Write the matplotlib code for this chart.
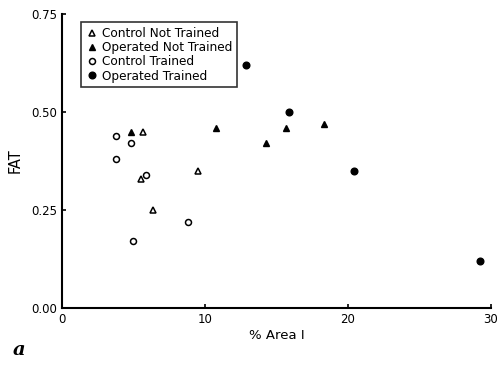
import matplotlib
matplotlib.use("Agg")
import matplotlib.pyplot as plt

# control, not trained (open triangles)
cnt_x = [5.7, 5.5, 9.5, 6.4]
cnt_y = [0.45, 0.33, 0.35, 0.25]
# operated, not trained (filled triangles)
ont_x = [4.8, 10.8, 14.3, 15.7, 18.3]
ont_y = [0.45, 0.46, 0.42, 0.46, 0.47]
# control, trained (open circles)
ct_x = [3.8, 4.8, 3.8, 5.9, 5.0, 8.8]
ct_y = [0.44, 0.42, 0.38, 0.34, 0.17, 0.22]
# operated, trained (filled circles)
ot_x = [12.9, 15.9, 20.4, 29.2]
ot_y = [0.62, 0.50, 0.35, 0.12]

xticks = [0, 10, 20, 30]
yticks = [0.0, 0.25, 0.50, 0.75]
ytick_labels = ['0.00', '0.25', '0.50', '0.75']

fig = plt.figure(figsize=(4.99, 3.66), dpi=100)
fig.set_facecolor('white')
ax = fig.add_axes([0.124, 0.158, 0.86, 0.804])

ms = 4.3
ax.plot(cnt_x, cnt_y, '^', ms=ms, mfc='white', mec='black', mew=1.1, ls='none', label='Control Not Trained')
ax.plot(ont_x, ont_y, '^', ms=ms + 0.5, mfc='black', mec='black', ls='none', label='Operated Not Trained')
ax.plot(ct_x, ct_y, 'o', ms=ms, mfc='white', mec='black', mew=1.1, ls='none', label='Control Trained')
ax.plot(ot_x, ot_y, 'o', ms=ms + 0.5, mfc='black', mec='black', ls='none', label='Operated Trained')

ax.set_xlim(0, 30)
ax.set_ylim(0, 0.75)
ax.set_xticks(xticks)
ax.set_yticks(yticks)
ax.set_yticklabels(ytick_labels)
ax.tick_params(direction='in', length=3, width=1.2, labelsize=8.5, colors='black')
ax.spines['top'].set_visible(False)
ax.spines['right'].set_visible(False)
ax.spines['left'].set_linewidth(1.5)
ax.spines['bottom'].set_linewidth(1.5)

ax.set_xlabel('% Area I', fontsize=9.5, labelpad=2)
ax.set_ylabel('FAT', fontsize=10.5, labelpad=6)

leg = ax.legend(loc='upper left', bbox_to_anchor=(0.045, 0.972), fontsize=8.7,
                frameon=True, fancybox=False, edgecolor='black', handletextpad=0.3,
                handlelength=1.0, borderpad=0.4, labelspacing=0.1, borderaxespad=0)
leg.get_frame().set_linewidth(1.2)

fig.text(0.025, 0.03, 'a', fontsize=14, fontweight='bold', style='italic', family='serif')

fig.savefig('out.png', dpi=100)
